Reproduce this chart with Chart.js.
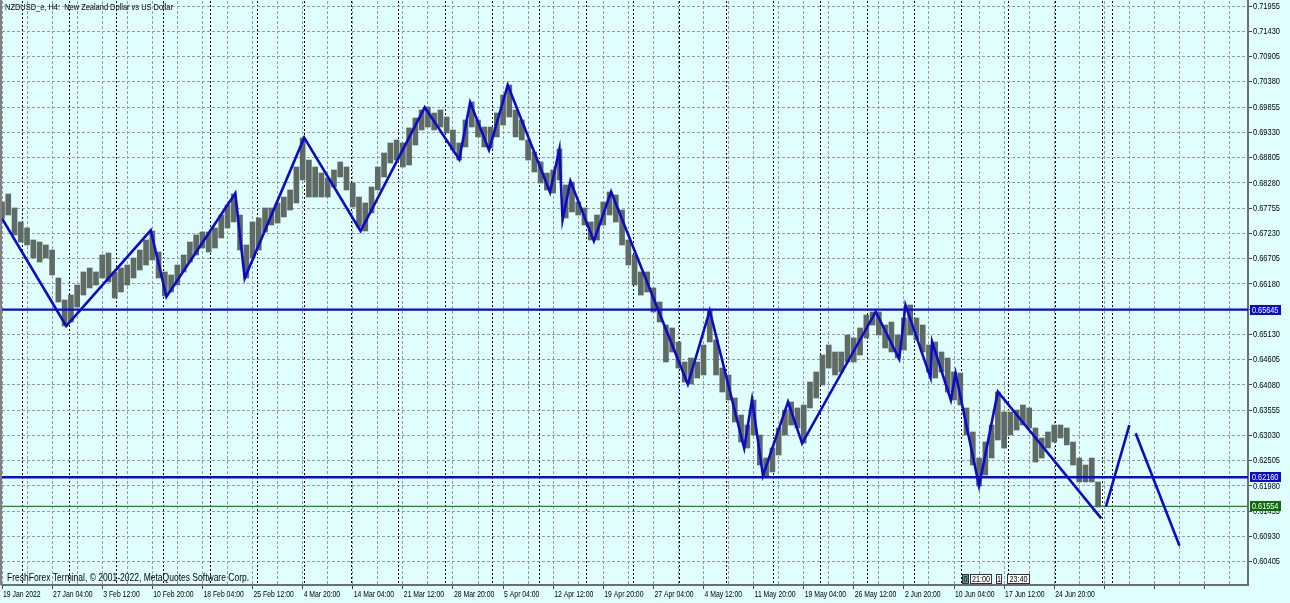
<!DOCTYPE html>
<html><head><meta charset="utf-8">
<script src="https://cdn.jsdelivr.net/npm/chart.js@4.4.1/dist/chart.umd.min.js"></script>
<style>html,body{margin:0;padding:0;background:#E0FFFF;overflow:hidden}#wrap{position:relative;width:1290px;height:603px}</style>
</head><body><div id="wrap"><canvas id="c" width="1290" height="603"></canvas></div>
<script>
const symbolTitle = 'NZDUSD_e, H4:  New Zealand Dollar vs US Dollar';
const copyrightText = 'FreshForex Terminal, \u00A9 2001-2022, MetaQuotes Software Corp.';
const timeLabels = ['19 Jan 2022','27 Jan 04:00','3 Feb 12:00','10 Feb 20:00','18 Feb 04:00','25 Feb 12:00','4 Mar 20:00','14 Mar 04:00','21 Mar 12:00','28 Mar 20:00','5 Apr 04:00','12 Apr 12:00','19 Apr 20:00','27 Apr 04:00','4 May 12:00','11 May 20:00','19 May 04:00','26 May 12:00','2 Jun 20:00','10 Jun 04:00','17 Jun 12:00','24 Jun 20:00'];
const barsPerLabel = 32;
const priceTickLabels = ['0.71955','0.71430','0.70905','0.70380','0.69855','0.69330','0.68805','0.68280','0.67755','0.67230','0.66705','0.66180','0.65655','0.65130','0.64605','0.64080','0.63555','0.63030','0.62505','0.61980','0.61455','0.60930','0.60405'];
const priceStep = 4;
const priceHigh = [0.67881,0.68048,0.67757,0.67466,0.67341,0.67092,0.67050,0.66988,0.66884,0.66302,0.65845,0.65948,0.66156,0.66427,0.66510,0.66427,0.66780,0.66821,0.66427,0.66510,0.66572,0.66718,0.66884,0.67092,0.67279,0.66842,0.66427,0.66364,0.66572,0.66780,0.67050,0.67196,0.67258,0.67258,0.67341,0.67611,0.67819,0.68048,0.67611,0.66988,0.67466,0.67549,0.67757,0.67757,0.67861,0.67985,0.68131,0.68609,0.69212,0.68754,0.68609,0.68484,0.68380,0.68547,0.68713,0.68609,0.68276,0.67985,0.67861,0.68193,0.68609,0.68900,0.69108,0.69170,0.69108,0.69420,0.69627,0.69794,0.69856,0.69731,0.69794,0.69648,0.69378,0.69108,0.69586,0.69960,0.69586,0.69440,0.69440,0.69731,0.70105,0.70313,0.69794,0.69586,0.69170,0.68921,0.68713,0.68484,0.68547,0.68983,0.68235,0.68297,0.67881,0.67757,0.67466,0.67611,0.67881,0.68089,0.68027,0.67715,0.67092,0.66780,0.66427,0.66427,0.66094,0.65803,0.65325,0.65263,0.64972,0.64556,0.64639,0.64556,0.64909,0.65637,0.65013,0.64431,0.64286,0.63808,0.63454,0.63246,0.63766,0.63039,0.62560,0.62768,0.63184,0.63558,0.63724,0.63600,0.63662,0.64140,0.64348,0.64701,0.64909,0.64764,0.64764,0.65117,0.65055,0.65263,0.65533,0.65595,0.65595,0.65325,0.65387,0.65117,0.65470,0.65741,0.65470,0.65325,0.64909,0.64972,0.64764,0.64639,0.64348,0.64327,0.63600,0.63101,0.62560,0.62893,0.63246,0.63932,0.63517,0.63517,0.63558,0.63662,0.63600,0.63184,0.62976,0.63101,0.63246,0.63246,0.63184,0.62893,0.62560,0.62415,0.62560,0.62062];
const priceLow = [0.67549,0.67611,0.67196,0.67050,0.66988,0.66718,0.66634,0.66718,0.66364,0.65803,0.65304,0.65387,0.65699,0.65948,0.66094,0.66156,0.66302,0.66219,0.65886,0.66011,0.66156,0.66302,0.66468,0.66572,0.66676,0.66302,0.65928,0.66011,0.66156,0.66427,0.66634,0.66780,0.66925,0.66842,0.66925,0.67133,0.67341,0.67466,0.66884,0.66302,0.66718,0.66884,0.67258,0.67403,0.67445,0.67570,0.67715,0.67861,0.68339,0.67985,0.67985,0.67985,0.67985,0.68193,0.68401,0.68131,0.67778,0.67362,0.67279,0.67653,0.68131,0.68401,0.68692,0.68754,0.68609,0.68651,0.69066,0.69378,0.69440,0.69378,0.69440,0.69316,0.68962,0.68754,0.69025,0.69440,0.69233,0.69025,0.69004,0.69233,0.69482,0.69648,0.69233,0.69170,0.68754,0.68505,0.68276,0.68131,0.68069,0.68339,0.67549,0.67674,0.67611,0.67403,0.67092,0.67092,0.67403,0.67611,0.67466,0.66988,0.66572,0.66156,0.65948,0.66011,0.65595,0.65387,0.64556,0.64764,0.64431,0.64140,0.64099,0.64223,0.64286,0.64972,0.64286,0.63932,0.63766,0.63309,0.62893,0.62768,0.63039,0.62415,0.62186,0.62270,0.62623,0.63039,0.63246,0.63184,0.62872,0.63600,0.63808,0.64078,0.64431,0.64286,0.64348,0.64556,0.64556,0.64701,0.65055,0.65325,0.65117,0.64847,0.64764,0.64639,0.64805,0.65117,0.65013,0.64764,0.64348,0.64223,0.64348,0.63932,0.63766,0.63662,0.63039,0.62415,0.61978,0.62207,0.62560,0.62935,0.62768,0.63039,0.63142,0.63246,0.63184,0.62477,0.62560,0.62768,0.62893,0.62976,0.62831,0.62415,0.62062,0.62062,0.62062,0.61542];
const zigzagBar = [0,41,95,105,149,155,193,229,270,292,299,311,323,350,356,358,363,378,389,438,452,474,479,486,502,511,558,573,577,593,594,606,609,624,636,702];
const zigzagPrice = [0.67538,0.65304,0.67293,0.65913,0.68062,0.66295,0.69218,0.67278,0.69849,0.68769,0.69953,0.68962,0.70313,0.68083,0.68983,0.67507,0.68318,0.67071,0.68095,0.64092,0.65622,0.62762,0.63780,0.62192,0.63730,0.62866,0.65601,0.64618,0.65740,0.64229,0.64977,0.63766,0.64321,0.61978,0.63938,0.61307];
const projUpBar = [705,720], projUpPrice = [0.61548,0.63246];
const projDownBar = [724,752], projDownPrice = [0.63074,0.60737];
const levelPrices = [0.65645,0.62160];
const bidPrice = 0.61554;
const firstWeekBar = 13, barsPerWeek = 30, lastWeekBar = 703, markerBar = 709;
const timeBoxes = ['0','21:00','1','23:40'];

const BG = '#E0FFFF';
const FN = "'Liberation Sans',Arial,sans-serif";
const X_MIN = 0, X_MAX = 795.75, Y_MIN = 0.59921, Y_MAX = 0.72059;
const TEXT_SQUEEZE = 0.76;

const canvas = document.getElementById('c');
const ctx2d = canvas.getContext('2d');
const origFill = ctx2d.fillText.bind(ctx2d);
const origMeasure = ctx2d.measureText.bind(ctx2d);
ctx2d.fillText = function (t, x, y) { this.save(); this.translate(x, y); this.scale(TEXT_SQUEEZE, 1); origFill(t, 0, 0); this.restore(); };
ctx2d.measureText = function (t) { const m = origMeasure(t); return { width: m.width * TEXT_SQUEEZE, actualBoundingBoxAscent: m.actualBoundingBoxAscent, actualBoundingBoxDescent: m.actualBoundingBoxDescent, actualBoundingBoxLeft: m.actualBoundingBoxLeft, actualBoundingBoxRight: m.actualBoundingBoxRight }; };

const gridBars = []; for (let b = 0; b <= 784; b += barsPerLabel / 2) gridBars.push(b);
const weekBars = []; for (let b = firstWeekBar; b <= lastWeekBar; b += barsPerWeek) weekBars.push(b); weekBars.push(markerBar);

const zeroPad = s => { s.paddingLeft = 0; s.paddingRight = 0; s.paddingTop = 0; s.paddingBottom = 0; };
const hLine = (p) => [{x: X_MIN, y: p}, {x: X_MAX, y: p}];

const decor = {
  id: 'decor',
  beforeDraw(chart) { const c = chart.ctx; c.save(); c.fillStyle = BG; c.fillRect(0, 0, chart.width, chart.height); c.restore(); },
  afterDraw(chart) {
    const c = chart.ctx, a = chart.chartArea, ys = chart.scales.y;
    c.save();
    c.strokeStyle = '#808080'; c.lineWidth = 2;
    c.beginPath(); c.moveTo(1, 0); c.lineTo(1, a.bottom); c.stroke();
    const tag = (p, bg) => {
      const py = Math.round(ys.getPixelForValue(p));
      c.fillStyle = bg; c.fillRect(a.right + 2, py - 5, 31, 10);
      c.fillStyle = '#fff'; c.font = '9.6px ' + FN; c.textBaseline = 'middle'; c.textAlign = 'left';
      c.fillText(p.toFixed(5), a.right + 4, py + 0.5);
    };
    levelPrices.forEach(p => tag(p, '#0a0ad0'));
    tag(bidPrice, '#0b6e0b');
    c.fillStyle = '#000'; c.textBaseline = 'middle'; c.textAlign = 'left';
    c.font = '9.8px ' + FN; c.fillText(symbolTitle, 5, 7);
    c.font = '11.2px ' + FN; c.fillText(copyrightText, 7, 578);
    const boxes = [[962, 6, '#5f9ea0'], [970, 21, '#ffffff'], [996, 5, '#ffffff'], [1007, 22, '#ffffff']];
    c.font = '9.5px ' + FN; c.textAlign = 'center';
    boxes.forEach((b, i) => {
      c.fillStyle = b[2]; c.fillRect(b[0], 574, b[1], 9);
      c.strokeStyle = '#333'; c.lineWidth = 1; c.strokeRect(b[0] + 0.5, 574.5, b[1], 9);
      c.fillStyle = '#000'; c.fillText(timeBoxes[i], b[0] + b[1] / 2 + 0.5, 579);
    });
    c.restore();
  }
};

new Chart(canvas, {
  type: 'bar',
  data: {
    datasets: [
      { type: 'line', label: 'zigzag', data: zigzagBar.map((b, i) => ({x: b, y: zigzagPrice[i]})), borderColor: '#0c0cc8', borderWidth: 2.6, pointRadius: 0, tension: 0, order: 1 },
      { type: 'line', label: 'projUp', data: projUpBar.map((b, i) => ({x: b, y: projUpPrice[i]})), borderColor: '#0c0cc8', borderWidth: 2.6, pointRadius: 0, order: 1 },
      { type: 'line', label: 'projDown', data: projDownBar.map((b, i) => ({x: b, y: projDownPrice[i]})), borderColor: '#0c0cc8', borderWidth: 2.6, pointRadius: 0, order: 1 },
      { type: 'line', label: 'lvl1', data: hLine(levelPrices[0]), borderColor: '#0a0ad0', borderWidth: 2.4, pointRadius: 0, order: 2 },
      { type: 'line', label: 'lvl2', data: hLine(levelPrices[1]), borderColor: '#0a0ad0', borderWidth: 2.4, pointRadius: 0, order: 2 },
      { type: 'line', label: 'bid', data: hLine(bidPrice), borderColor: '#1f8a1f', borderWidth: 1.2, pointRadius: 0, order: 3 },
      { type: 'bar', label: 'price', data: priceHigh.map((h, i) => ({x: i * priceStep, y: [priceLow[i], h]})), backgroundColor: '#5f6a64', borderWidth: 0, barThickness: 5, grouped: false, order: 10 }
    ]
  },
  options: {
    responsive: false, animation: false, devicePixelRatio: 1,
    layout: { padding: { left: 2, top: 1, right: 0, bottom: 0 } },
    plugins: { legend: { display: false }, tooltip: { enabled: false } },
    scales: {
      x: {
        type: 'linear', min: X_MIN, max: X_MAX, offset: false, position: 'bottom',
        grid: { offset: false, color: '#9a9a9a', lineWidth: 1, drawTicks: true, tickLength: 4,
          tickColor: ctx => (ctx.tick && ctx.tick.value % barsPerLabel === 0) ? '#444' : 'rgba(0,0,0,0)', tickWidth: 1 },
        border: { display: true, color: '#6e6e6e', width: 2, dash: [3, 2] },
        ticks: { autoSkip: false, maxRotation: 0, minRotation: 0, align: 'start', labelOffset: 1, padding: 0, color: '#000', font: { family: FN, size: 9 },
          callback: v => (v % barsPerLabel === 0 && timeLabels[v / barsPerLabel]) ? timeLabels[v / barsPerLabel] : '' },
        afterBuildTicks: s => { s.ticks = gridBars.map(v => ({value: v})); },
        afterFit: s => { s.height = 18; zeroPad(s); }
      },
      xw: {
        type: 'linear', min: X_MIN, max: X_MAX, offset: false, position: 'bottom',
        grid: { offset: false, color: '#000', lineWidth: 1, drawTicks: false },
        border: { display: false, dash: [2, 2] },
        ticks: { display: false },
        afterBuildTicks: s => { s.ticks = weekBars.map(v => ({value: v})); },
        afterFit: s => { s.height = 0; zeroPad(s); }
      },
      y: {
        type: 'linear', min: Y_MIN, max: Y_MAX, position: 'right',
        grid: { color: '#9a9a9a', lineWidth: 1, drawTicks: true, tickLength: 4, tickColor: '#444', tickWidth: 1 },
        border: { display: true, color: '#6e6e6e', width: 2, dash: [3, 2] },
        ticks: { autoSkip: false, padding: 1, color: '#000', font: { family: FN, size: 9.8 }, callback: v => v.toFixed(5) },
        afterBuildTicks: s => { s.ticks = priceTickLabels.map(t => ({value: parseFloat(t)})).sort((p, q) => p.value - q.value); },
        afterFit: s => { s.width = 42; zeroPad(s); }
      }
    }
  },
  plugins: [decor]
});
</script></body></html>
